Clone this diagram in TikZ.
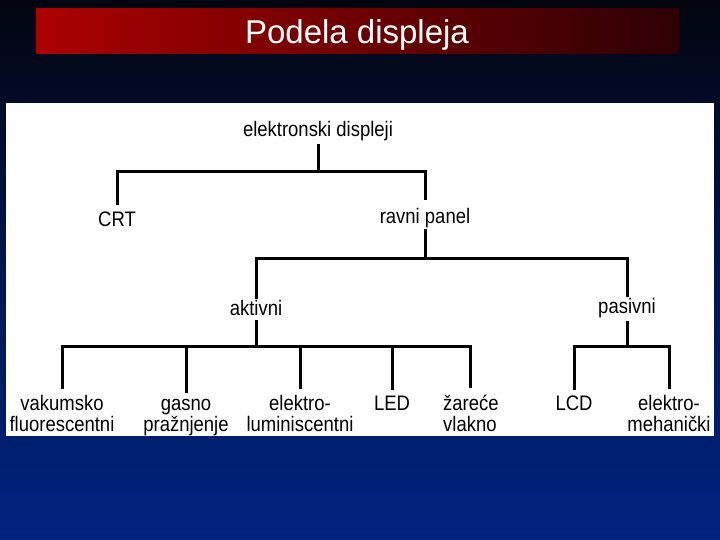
\documentclass[tikz,border=0pt]{standalone}
\usepackage{fontspec}
\setmainfont{Liberation Sans}
\newfontfamily\narrowf{Liberation Sans}[FakeStretch=0.88]
\definecolor{bgtop}{RGB}{2,5,14}
\definecolor{bgmid}{RGB}{0,22,80}
\definecolor{bgbot}{RGB}{0,35,128}
\definecolor{barleft}{RGB}{172,0,0}
\definecolor{barmid}{RGB}{150,0,0}
\definecolor{barright}{RGB}{45,0,4}
\begin{document}
\begin{tikzpicture}[x=1pt,y=-1pt,
  lbl/.style={font=\narrowf\fontsize{21}{21}\selectfont, inner sep=0pt, align=center, anchor=base},
  tree/.style={line width=3pt, black}]
\useasboundingbox (0,0) rectangle (720,540);
\shade[top color=bgtop, bottom color=bgbot, middle color=bgmid] (0,0) rectangle (720,540);
\shade[left color=barleft, middle color=barmid, right color=barright] (36,9) rectangle (679,54);
\node[anchor=base, text=white, inner sep=0pt, font=\fontsize{33}{33}\selectfont] (title) at (357,44) {Podela displeja};
\fill[white] (6,103) rectangle (714,436);
% labels
\node[lbl] (root) at (318,137) {elektronski displeji};
\node[lbl] (crt) at (117,226) {CRT};
\node[lbl] (rp) at (425,223) {ravni panel};
\node[lbl] (akt) at (256,315) {aktivni};
\node[lbl] (pas) at (627,313) {pasivni};
\node[lbl] (vak) at (62,431) {vakumsko\\fluorescentni};
\node[lbl] (gas) at (186,431) {gasno\\pražnjenje};
\node[lbl] (elu) at (300,431) {elektro-\\luminiscentni};
\node[lbl] (led) at (392,410) {LED};
\node[lbl, align=left, anchor=base west] (zar) at (443,431) {žareće\\vlakno};
\node[lbl] (lcd) at (574,410) {LCD};
\node[lbl] (eme) at (669,431) {elektro-\\mehanički};
% junctions
\coordinate (j1) at (318,172);
\coordinate (j2) at (425,258);
\coordinate (j3) at (256,346);
\coordinate (j4) at (627,346);
% tree lines
\draw[tree, shorten <=2pt] (root.south) -- (j1);
\draw[tree, shorten <=6pt, shorten >=8pt] (crt.north) |- (j1) -| (rp.north);
\draw[tree, shorten <=1pt] (rp.south) -- (j2);
\draw[tree, shorten <=1pt, shorten >=1pt] (akt.north) |- (j2) -| (pas.north);
\draw[tree, shorten <=5pt] (akt.south) -- (j3);
\draw[tree, shorten <=3pt] (pas.south) -- (j4);
\draw[tree, shorten <=6pt, shorten >=6pt] (vak.north) |- (j3) -| (zar.north);
\draw[tree, shorten >=6pt] (gas.north |- j3) -- (gas.north);
\draw[tree, shorten >=6pt] (elu.north |- j3) -- (elu.north);
\draw[tree, shorten >=5pt] (led.north |- j3) -- (led.north);
\draw[tree, shorten <=5pt, shorten >=6pt] (lcd.north) |- (j4) -| (eme.north);
\end{tikzpicture}
\end{document}
